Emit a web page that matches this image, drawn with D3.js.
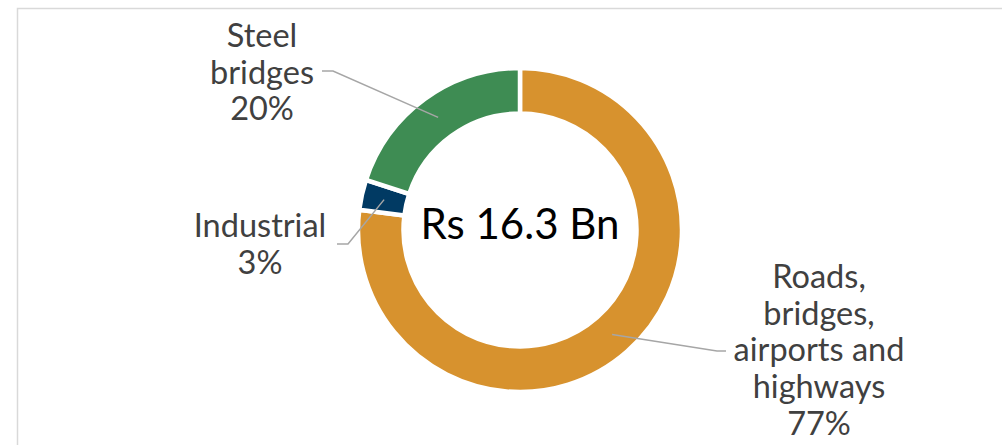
<!DOCTYPE html>
<html>
<head>
<meta charset="utf-8">
<script src="https://cdn.jsdelivr.net/npm/d3@7"></script>
<style>
  html, body { margin: 0; padding: 0; background: #fff; }
  svg { display: block; }
</style>
</head>
<body>
<div id="chart"></div>
<script>
// Order book split - donut
const categories = ["Roads, bridges, airports and highways", "Industrial", "Steel bridges"];
const shares = [77, 3, 20];
const label_lines = [
    ["Roads,", "bridges,", "airports and", "highways", "77%"],
    ["Industrial", "3%"],
    ["Steel", "bridges", "20%"]
];
const slice_colors = ["#D7922E", "#013A63", "#3E8C53"];
const centre_text = "Rs 16.3 Bn";

const width = 1002;
const height = 445;
const cx = 520, cy = 230;
const outer_r = 162, inner_r = 116.5;

// where each label sits and where its leader line ends
const label_layout = [
    { x: 819, y: 288, elbow: [717, 351], end: [726, 351] },
    { x: 260, y: 237, elbow: [348, 244], end: [337, 244] },
    { x: 262, y: 47, elbow: [333, 71], end: [322, 71] }
];

const svg = d3.select("#chart").append("svg")
    .attr("width", width)
    .attr("height", height);

// chart area border (runs off the right and bottom of the picture)
svg.append("rect")
    .attr("x", 17.5).attr("y", 8.5)
    .attr("width", width + 20).attr("height", height + 20)
    .attr("fill", "none")
    .attr("stroke", "#D9D9D9")
    .attr("stroke-width", 1.5);

const pie = d3.pie().sort(null).value(d => d)
    .startAngle(0).endAngle(2 * Math.PI);
const arcs = pie(shares);

const arc = d3.arc().innerRadius(inner_r).outerRadius(outer_r);

const g = svg.append("g")
    .attr("transform", `translate(${cx},${cy})`);

g.selectAll("path.slice")
    .data(arcs)
    .join("path")
    .attr("class", "slice")
    .attr("d", arc)
    .attr("fill", (d, i) => slice_colors[i])
    .attr("stroke", "#fff")
    .attr("stroke-width", 4.5)
    .attr("stroke-linejoin", "miter");

// leader lines
const line = d3.line();
svg.selectAll("path.leader")
    .data(arcs)
    .join("path")
    .attr("class", "leader")
    .attr("d", (d, i) => {
        const c = arc.centroid(d);
        const lay = label_layout[i];
        return line([[cx + c[0], cy + c[1]], lay.elbow, lay.end]);
    })
    .attr("fill", "none")
    .attr("stroke", "#A6A6A6")
    .attr("stroke-width", 1.5);

// labels
const labels = svg.selectAll("text.label")
    .data(categories)
    .join("text")
    .attr("class", "label")
    .attr("x", (d, i) => label_layout[i].x)
    .attr("y", (d, i) => label_layout[i].y)
    .attr("text-anchor", "middle")
    .style("font-family", "Lato, 'Open Sans', sans-serif")
    .style("font-size", "32.5px")
    .style("fill", "#404040");

labels.each(function (d, i) {
    d3.select(this).selectAll("tspan")
        .data(label_lines[i])
        .join("tspan")
        .attr("x", label_layout[i].x)
        .attr("dy", (t, j) => j === 0 ? 0 : 36.7)
        .text(t => t);
});

svg.append("text")
    .attr("x", cx)
    .attr("y", cy + 9)
    .attr("text-anchor", "middle")
    .style("font-family", "Lato, 'Open Sans', sans-serif")
    .style("font-size", "42px")
    .style("fill", "#000")
    .text(centre_text);
</script>
</body>
</html>
